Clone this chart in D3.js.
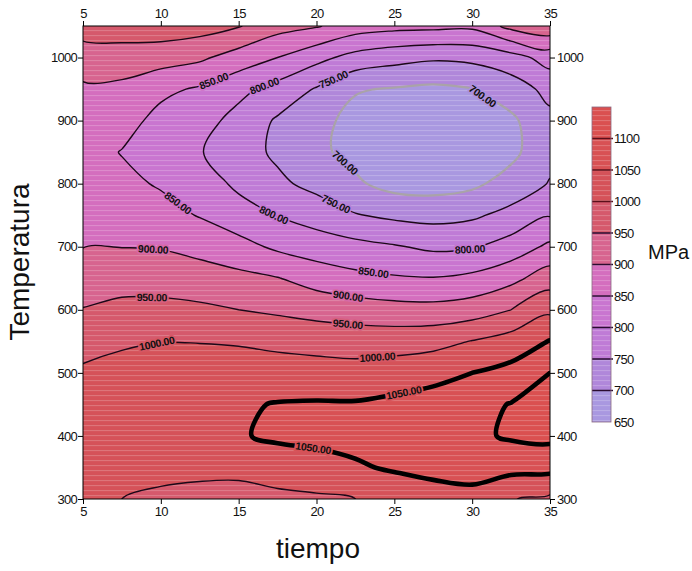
<!DOCTYPE html>
<html><head><meta charset="utf-8">
<script src="https://cdn.jsdelivr.net/npm/d3@7"></script>
<style>
body{margin:0;background:#fff}
svg{display:block}
text{font-family:Arial,"Liberation Sans",sans-serif}
</style>
</head><body>
<svg id="c" width="692" height="571"></svg>
<script>
// ---------------- data ----------------
const tiempo = [5, 7.5, 10, 12.5, 15, 17.5, 20, 22.5, 25, 27.5, 30, 32.5, 35];
const temperatura = [300, 350, 400, 450, 500, 550, 600, 650, 700, 750, 800, 850, 900, 950, 1000, 1050];
// resistencia (MPa): one row per temperatura, one column per tiempo
const resistencia = [
  [1010, 1000,  990,  985,  983,  985,  992, 1000, 1020, 1030, 1035, 1002,  990],
  [1020, 1022, 1015, 1012, 1012, 1030, 1035, 1045, 1055, 1063, 1068, 1065, 1065],
  [1025, 1032, 1035, 1036, 1047, 1056, 1060, 1063, 1075, 1085, 1090, 1106, 1112],
  [1022, 1030, 1038, 1042, 1045, 1052, 1054, 1054, 1062, 1070, 1085, 1102, 1115],
  [1008, 1020, 1025, 1028, 1027, 1025, 1022, 1018, 1024, 1035, 1050, 1065, 1100],
  [ 981,  992,  999,  998,  995,  987,  981,  978,  979,  984, 1002, 1022, 1052],
  [ 952,  962,  963,  959,  950,  942,  933,  925,  918,  916,  925,  950,  990],
  [ 925,  932,  930,  922,  913,  902,  879,  863,  855,  852,  862,  886,  926],
  [ 899,  899,  897,  885,  867,  841,  825,  815,  804,  791,  795,  821,  860],
  [ 882,  878,  868,  847,  821,  798,  779,  753,  740,  734,  742,  765,  797],
  [ 873,  862,  845,  825,  790,  760,  735,  707,  683,  680,  690,  719,  753],
  [ 870,  848,  826,  803,  772,  741,  709,  687,  670,  665,  672,  688,  735],
  [ 876,  869,  835,  820,  783,  744,  712,  688,  673,  668,  675,  691,  737],
  [ 892,  888,  861,  844,  814,  782,  746,  703,  697,  690,  699,  725,  765],
  [ 926,  928,  922,  909,  878,  850,  815,  783,  767,  757,  762,  780,  820],
  [ 972,  975,  978,  971,  953,  918,  904,  874,  865,  863,  860,  915,  935]
];
const niveles = [650, 700, 750, 800, 850, 900, 950, 1000, 1050, 1100];
const nivelMax = 1150;
const colores = ["#a998e0", "#b087da", "#bf7bd6", "#c975d0", "#d46ebe", "#d7648f",
                 "#d5596c", "#d55259", "#d85154", "#da5050"];
const xTicks = [5, 10, 15, 20, 25, 30, 35];
const yTicks = [300, 400, 500, 600, 700, 800, 900, 1000];
const barTicks = [650, 700, 750, 800, 850, 900, 950, 1000, 1050, 1100];
// contour labels: approximate location (tiempo, temperatura) and level
const etiquetas = [
  {t: 13.35, T: 966, v: 850}, {t: 16.56, T: 961, v: 800}, {t: 21.06, T: 967, v: 750},
  {t: 30.82, T: 944, v: 700}, {t: 21.83, T: 833, v: 700}, {t: 21.06, T: 758, v: 750},
  {t: 10.91, T: 763, v: 850}, {t: 17.2, T: 747, v: 800}, {t: 29.86, T: 695, v: 800},
  {t: 23.63, T: 655, v: 850}, {t: 9.5, T: 692, v: 900}, {t: 22.02, T: 620, v: 900},
  {t: 9.43, T: 619, v: 950}, {t: 22.02, T: 579, v: 950}, {t: 9.75, T: 546, v: 1000},
  {t: 23.9, T: 528, v: 1000}, {t: 25.56, T: 474, v: 1050}, {t: 19.8, T: 382, v: 1050}
];

// ---------------- drawing ----------------
const svg = d3.select("#c");
const W = {l: 83, r: 550, t: 26, b: 499};
const x = d3.scaleLinear().domain([5, 35]).range([W.l, W.r]);
const y = d3.scaleLinear().domain([300, 1050]).range([W.b, W.t]);
const cb = d3.scaleLinear().domain([650, nivelMax]).range([422, 107]);

const defs = svg.append("defs");
defs.append("clipPath").attr("id", "clip").append("rect")
  .attr("x", W.l).attr("y", W.t).attr("width", W.r - W.l).attr("height", W.b - W.t);
const pat = defs.append("pattern").attr("id", "scan").attr("patternUnits", "userSpaceOnUse")
  .attr("width", 8).attr("height", 5);
pat.append("rect").attr("width", 8).attr("height", 1.1).attr("fill", "#fff").attr("fill-opacity", 0.2);

const n = tiempo.length, m = temperatura.length;
const dt = tiempo[1] - tiempo[0], dT = temperatura[1] - temperatura[0];
const flat = [];
for (let j = 0; j < m; j++) for (let i = 0; i < n; i++) flat.push(resistencia[j][i]);

const contours = d3.contours().size([n, m]).thresholds(niveles)(flat);
const proj = p => [x(tiempo[0] + (p[0] - 0.5) * dt), y(temperatura[0] + (p[1] - 0.5) * dT)];
const lineGen = d3.line().curve(d3.curveCatmullRomClosed.alpha(0.5));
function pathOf(geom) {
  let d = "";
  geom.coordinates.forEach(poly => poly.forEach(ring => {
    const pts = ring.slice(0, -1).map(proj);
    if (pts.length > 2) d += lineGen(pts);
  }));
  return d;
}

const plot = svg.append("g").attr("clip-path", "url(#clip)");
plot.append("rect").attr("x", W.l).attr("y", W.t).attr("width", W.r - W.l).attr("height", W.b - W.t)
  .attr("fill", colores[0]);
contours.forEach((c, k) => {
  plot.append("path").attr("d", pathOf(c)).attr("fill", colores[k]).attr("fill-rule", "evenodd");
});
plot.append("rect").attr("x", W.l).attr("y", W.t).attr("width", W.r - W.l).attr("height", W.b - W.t)
  .attr("fill", "url(#scan)");
contours.forEach(c => {
  const v = c.value;
  if (v <= 650) return;
  const thick = v >= 1050;
  plot.append("path").attr("d", pathOf(c)).attr("fill", "none")
    .attr("stroke", v === 700 ? "#a9a3a8" : (thick ? "#000" : "#1c0818"))
    .attr("stroke-width", v === 700 ? 2.2 : (thick ? 4.6 : 1.4))
    .attr("stroke-linejoin", "round");
});

// bilinear helper (for label placement / orientation)
function f(t, T) {
  let fi = (t - tiempo[0]) / dt, fj = (T - temperatura[0]) / dT;
  fi = Math.max(0, Math.min(n - 1.0001, fi)); fj = Math.max(0, Math.min(m - 1.0001, fj));
  const i = Math.floor(fi), j = Math.floor(fj), a = fi - i, b = fj - j;
  return resistencia[j][i] * (1 - a) * (1 - b) + resistencia[j][i + 1] * a * (1 - b) +
         resistencia[j + 1][i] * (1 - a) * b + resistencia[j + 1][i + 1] * a * b;
}
const g = (px, py) => f(x.invert(px), y.invert(py));
const bandColor = v => {
  const k = niveles.indexOf(v);
  return d3.interpolateRgb(colores[Math.max(0, k - 1)], colores[k])(0.5);
};
etiquetas.forEach(e => {
  let px = x(e.t), py = y(e.T);
  for (let it = 0; it < 4; it++) {
    const gx = (g(px + 1, py) - g(px - 1, py)) / 2, gy = (g(px, py + 1) - g(px, py - 1)) / 2;
    const nn = gx * gx + gy * gy; if (nn < 1e-9) break;
    const r = g(px, py) - e.v;
    px -= r * gx / nn; py -= r * gy / nn;
  }
  const gx = (g(px + 2, py) - g(px - 2, py)), gy = (g(px, py + 2) - g(px, py - 2));
  let ang = Math.atan2(-gx, gy) * 180 / Math.PI;
  if (ang > 90) ang -= 180; if (ang < -90) ang += 180;
  plot.append("text").attr("transform", `translate(${px},${py}) rotate(${ang})`)
    .attr("text-anchor", "middle").attr("dy", "0.36em")
    .attr("font-size", 10.5).attr("font-weight", "bold").attr("letter-spacing", -0.3)
    .attr("fill", "#111").attr("stroke", bandColor(e.v)).attr("stroke-width", 3.5)
    .attr("paint-order", "stroke")
    .text(e.v.toFixed(2));
});

// frame
svg.append("rect").attr("x", W.l).attr("y", W.t).attr("width", W.r - W.l).attr("height", W.b - W.t)
  .attr("fill", "none").attr("stroke", "#000").attr("stroke-width", 1);

function styleAxis(sel) {
  sel.select(".domain").remove();
  sel.selectAll("text").attr("font-size", 13).attr("letter-spacing", -0.7)
    .attr("font-family", "Arial, 'Liberation Sans', sans-serif").attr("fill", "#111");
  sel.selectAll("line").attr("stroke", "#000");
}
svg.append("g").attr("transform", `translate(0,${W.t})`)
  .call(d3.axisTop(x).tickValues(xTicks).tickSize(5).tickPadding(3).tickFormat(d3.format("d"))).call(styleAxis);
svg.append("g").attr("transform", `translate(0,${W.b})`)
  .call(d3.axisBottom(x).tickValues(xTicks).tickSize(5).tickPadding(3).tickFormat(d3.format("d"))).call(styleAxis);
svg.append("g").attr("transform", `translate(${W.l},0)`)
  .call(d3.axisLeft(y).tickValues(yTicks).tickSize(5).tickPadding(1).tickFormat(d3.format("d"))).call(styleAxis);
svg.append("g").attr("transform", `translate(${W.r},0)`)
  .call(d3.axisRight(y).tickValues(yTicks).tickSize(5).tickPadding(2).tickFormat(d3.format("d"))).call(styleAxis);

// colour bar
const barX = 592, barW = 19;
const bar = svg.append("g");
niveles.forEach((v, k) => {
  const top = k + 1 < niveles.length ? niveles[k + 1] : nivelMax;
  bar.append("rect").attr("x", barX).attr("y", cb(top)).attr("width", barW)
    .attr("height", cb(v) - cb(top)).attr("fill", colores[k]);
});
bar.append("rect").attr("x", barX).attr("y", cb(nivelMax)).attr("width", barW)
  .attr("height", cb(650) - cb(nivelMax)).attr("fill", "url(#scan)");
barTicks.filter(v => v > 650).forEach(v => {
  bar.append("line").attr("x1", barX).attr("x2", barX + barW + 2).attr("y1", cb(v)).attr("y2", cb(v))
    .attr("stroke", v >= 1000 ? "#5a0f1a" : "#2a0c30").attr("stroke-width", 1.5);
});
bar.append("rect").attr("x", barX).attr("y", cb(nivelMax)).attr("width", barW)
  .attr("height", cb(650) - cb(nivelMax)).attr("fill", "none").attr("stroke", "#8a6a80").attr("stroke-width", 0.8);
svg.append("g").attr("transform", `translate(${barX + barW},0)`)
  .call(d3.axisRight(cb).tickValues(barTicks).tickSize(0).tickPadding(3).tickFormat(d3.format("d"))).call(styleAxis);

// titles
svg.append("text").attr("x", 318).attr("y", 558).attr("text-anchor", "middle")
  .attr("font-size", 28).attr("fill", "#111").text("tiempo");
svg.append("text").attr("transform", "translate(29,262) rotate(-90)").attr("text-anchor", "middle")
  .attr("font-size", 28).attr("fill", "#111").text("Temperatura");
svg.append("text").attr("x", 648).attr("y", 259).attr("font-size", 20).attr("fill", "#111").text("MPa");
</script>
</body></html>
